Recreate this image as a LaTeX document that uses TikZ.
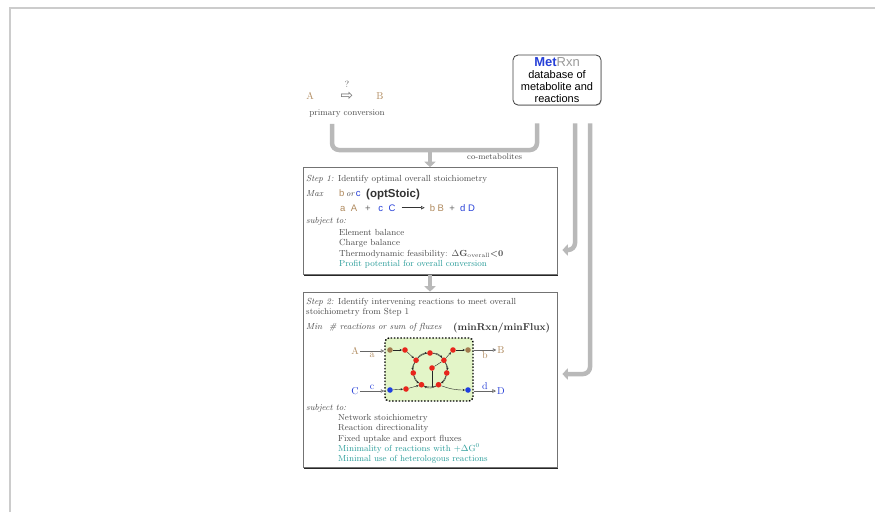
\documentclass[tikz,border=0pt]{standalone}
\usepackage{fontspec}
\newfontfamily\helv{Liberation Sans}
\newfontfamily\dejavu{DejaVu Sans}
\usetikzlibrary{positioning}
\usetikzlibrary{arrows.meta,shadows}
\definecolor{tanc}{HTML}{B08A5E}
\definecolor{bluec}{HTML}{2740D8}
\definecolor{tealc}{HTML}{2A9D9A}
\definecolor{inkc}{HTML}{4B4B4B}
\definecolor{pipec}{HTML}{B9B9B9}
\definecolor{netc}{HTML}{E3F5C8}
\definecolor{dotred}{HTML}{E8261C}
\definecolor{dotbrown}{HTML}{A27B4E}
\definecolor{dotblue}{HTML}{1F3FE0}

\begin{document}
\begin{tikzpicture}[x=1pt,y=-1pt,
  txt/.style={font=\fontsize{8.8}{10.4}\selectfont,text=inkc,inner sep=0pt,anchor=base west,align=left},
  eqn/.style={font=\helv\fontsize{9.5}{10}\selectfont,inner sep=0pt},
  stepbox/.style={rectangle,draw=black!55,fill=white,line width=0.6pt,
    drop shadow={shadow xshift=0.8pt,shadow yshift=-1.6pt,opacity=0.85,fill=black}},
  dbbox/.style={rectangle,rounded corners=5pt,draw=black!75,line width=0.8pt,fill=white,
    minimum width=88pt,minimum height=50pt,align=center,inner sep=1pt,
    font=\helv\fontsize{11}{12}\selectfont,
    drop shadow={shadow xshift=0.6pt,shadow yshift=-0.8pt,opacity=0.5}},
  pipe/.style={draw=pipec,line width=4.5pt,rounded corners=7pt},
  pipearrow/.style={pipe,-{Triangle[width=11pt,length=5.5pt]}},
  dot/.style={circle,inner sep=0pt,minimum size=5.6pt,fill=dotred},
  flow/.style={thin,draw=black!85,-{Stealth[length=2.4pt,width=2.2pt]}},
  feed/.style={draw=black!60,line width=0.6pt,-{Triangle[open,length=3.5pt,width=3.5pt]}},
  lab/.style={font=\fontsize{10}{10}\selectfont,inner sep=1pt}]

  \useasboundingbox (0,0) rectangle (875,512);
  \draw[black!20,line width=1.6pt] (10,512) -- (10,8) -- (875,8);

  % primary conversion
  \node[lab,text=tanc] (A0) at (310,96) {A};
  \node[font=\dejavu\fontsize{15}{15}\selectfont,text=black!55,inner sep=0pt] (conv) [right=37pt of A0.center,anchor=center] {⇨};
  \node[lab,text=black!70,font=\fontsize{9}{9}\selectfont] (q) [above=12pt of conv.center,anchor=center] {?};
  \node[lab,text=tanc] (B0) [right=33pt of conv.center,anchor=center] {B};
  \node[txt] (pc) [below=18pt of conv.center,anchor=center] {primary conversion};

  % database
  \node[dbbox] (MR) at (557,80) {{\fontsize{13}{13}\selectfont\textbf{\textcolor{bluec}{Met}}\textcolor{black!40}{Rxn}}\\database of\\metabolite and\\reactions};

  % Step 1
  \node[stepbox,minimum width=254pt,minimum height=107pt] (S1) at (430,221) {};
  \node[txt] (s1t) at (306,181) {\textit{Step 1:}\enspace Identify optimal overall stoichiometry};
  \node[txt] (s1m) at (306,196) {\textit{Max}};
  \node[txt,font=\helv\fontsize{9.5}{10}\selectfont] (s1o) at (339,196) {\textcolor{tanc}{b}\,{\rmfamily\itshape\fontsize{8.5}{10}\selectfont or}\,\textcolor{bluec}{c}};
  \node[txt,font=\helv\bfseries\fontsize{11.5}{12}\selectfont,text=black!80] (s1n) at (366,197) {(optStoic)};
  \node[eqn,anchor=base west] (lhs) at (340,211) {\textcolor{tanc}{a\ \ A}\ \ \ \textcolor{black!60}{+}\ \ \ \textcolor{bluec}{c\ \ C}};
  \node[eqn] (rhs) [right=34pt of lhs] {\textcolor{tanc}{b\ B}\ \ \textcolor{black!60}{+}\ \ \textcolor{bluec}{d\ D}};
  \draw[feed,draw=black!80,shorten <=6pt,shorten >=5pt] (lhs) -- (rhs);
  \node[txt] (s1s) at (306,223) {\textit{subject to:}};
  \node[txt,anchor=north west] (s1c) at (339,228.9) {Element balance\\Charge balance\\Thermodynamic feasibility: $\Delta$\textbf{G$_{\mathrm{overall}}$<0}\\\textcolor{tealc}{Profit potential for overall conversion}};

  % Step 2
  \node[stepbox,minimum width=254pt,minimum height=175pt] (S2) at (430,379.5) {};
  \node[txt,anchor=north west] (s2t) at (306,297.9) {\textit{Step 2:}\enspace Identify intervening reactions to meet overall\\stoichiometry from Step 1};
  \node[txt] (s2m) at (306,329) {\textit{Min}};
  \node[txt] (s2o) at (329,329) {\textit{\# reactions or sum of fluxes}};
  \node[txt,font=\bfseries\fontsize{10}{12}\selectfont,text=black!80] (s2n) at (453,330) {(minRxn/minFlux)};
  \node[txt] (s2s) at (306,410) {\textit{subject to:}};
  \node[txt,anchor=north west] (s2c) at (338,413.9) {Network stoichiometry\\Reaction directionality\\Fixed uptake and export fluxes\\\textcolor{tealc}{Minimality of reactions with +$\Delta$G$^0$}\\\textcolor{tealc}{Minimal use of heterologous reactions}};

  % network
  \node[draw,dash pattern=on 1.5pt off 1.7pt,line width=1.4pt,fill=netc,rounded corners=4pt,minimum width=88pt,minimum height=63pt] (net) at (429,369.5) {};
  \coordinate (cc) at (430,370);
  \coordinate (cbot) at (432,387);
  \draw[thin,black!85] (cc) circle (17);
  \node[dot,fill=dotbrown] (tA) at (390,350) {};
  \node[dot] (r1) at (405,350) {};
  \node[dot] (r2) at (453,350) {};
  \node[dot,fill=dotbrown] (tB) at (468,350) {};
  \node[dot,fill=dotblue] (bC) at (390,390) {};
  \node[dot] (r3) at (406,389) {};
  \node[dot,fill=dotblue] (bD) at (468,390) {};
  \foreach \ang/\nm in {90/cT,145/cTL,190/cL,240/cBL,300/cBR,350/cR,35/cTR}
    \node[dot] (\nm) at ([shift={(-\ang:17)}]cc) {};
  \node[dot] (cin) at (432,368) {};

  \draw[flow] (tA) -- (r1);
  \draw[flow] (r1) -- (cTL);
  \draw[flow] (cTL) to[bend left=27] (cT);
  \draw[flow] (cT) to[bend left=27] (cTR);
  \draw[flow] (cTR) -- (r2);
  \draw[flow] (r2) -- (tB);
  \draw[flow] (cTL) to[bend right=22] (cL);
  \draw[flow] (cL) to[bend right=25] (cBL);
  \draw[flow] (cTR) to[bend left=22] (cR);
  \draw[flow] (cR) to[bend left=25] (cBR);
  \draw[flow] (cBR) to[bend left=30] (cBL);
  \draw[thin,black!85] (cTR) -- (cin);
  \draw[thin,black!85] (cin) -- (cbot);
  \draw[flow] (bC) -- (r3);
  \draw[flow] (r3) -- (cBL);
  \draw[flow] (cBR) to[out=-20,in=180] (bD);

  \node[lab,text=tanc] (Ain) at (355,351) {A};
  \node[lab,text=bluec] (Cin) at (355,391) {C};
  \node[lab,text=tanc] (Bout) at (501,350) {B};
  \node[lab,text=bluec] (Dout) at (501,391) {D};
  \draw[feed] (Ain) -- (Ain -| net.west) node[midway,below=0.5pt,lab,text=tanc] {a};
  \draw[feed] (Cin) -- (Cin -| net.west) node[midway,above=0.5pt,lab,text=bluec] {c};
  \draw[feed] (net.east |- Bout) -- (Bout) node[midway,below=0.5pt,lab,text=tanc] {b};
  \draw[feed] (net.east |- Dout) -- (Dout) node[midway,above=0.5pt,lab,text=bluec] {d};

  % pipes
  \coordinate (merge) at (430,150);
  \draw[pipe] ([shift={(-15,6)}]pc.south) |- (merge) -| ([shift={(-20,18)}]MR.south);
  \draw[pipearrow] (merge) -- (S1.north);
  \node[txt,font=\fontsize{8.2}{9}\selectfont] (cm) at (467,159) {co-metabolites};
  \draw[pipearrow] ([shift={(18,18)}]MR.south) |- ([shift={(5,29)}]S1.east);
  \draw[pipearrow] ([shift={(33,18)}]MR.south) |- ([shift={(5,-5.5)}]S2.east);
  \draw[pipearrow] (S1.south) -- (S2.north);

\end{tikzpicture}
\end{document}
